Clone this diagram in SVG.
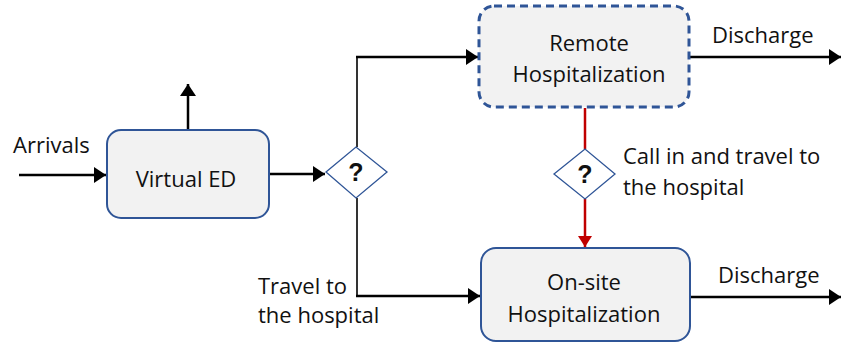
<svg xmlns="http://www.w3.org/2000/svg" width="841" height="345" viewBox="0 0 841 345">
<style>
text{font-family:"Open Sans","Liberation Sans",sans-serif;font-size:22px;fill:#111}
.c{text-anchor:middle}
.q{font-family:"Liberation Sans",Arial,sans-serif;font-weight:bold;font-size:25px;text-anchor:middle}
.box{fill:#F2F2F2;stroke:#2F5597;stroke-width:2}
.dash{fill:#F2F2F2;stroke:#2F5597;stroke-width:3;stroke-dasharray:8 5}
.dia{fill:#fff;stroke:#2F5597;stroke-width:1.3}
.k{fill:none;stroke:#000;stroke-width:2.5}
.t{fill:none;stroke:#000;stroke-width:1.6}
.r{fill:none;stroke:#C00000;stroke-width:2.5}
</style>
<defs>
<marker id="ah" markerUnits="userSpaceOnUse" markerWidth="13" markerHeight="16" refX="12" refY="8" orient="auto"><path d="M0,0 L12,8 L0,16 Z" fill="#000"/></marker>
<marker id="ahr" markerUnits="userSpaceOnUse" markerWidth="12" markerHeight="14" refX="11" refY="7" orient="auto"><path d="M0,0 L11,7 L0,14 Z" fill="#C00000"/></marker>
</defs>
<g id="connectors">
<path class="k" d="M19,175 H106" marker-end="url(#ah)"/>
<path class="k" d="M188,130 V84" marker-end="url(#ah)"/>
<path class="k" d="M269,174 H325" marker-end="url(#ah)"/>
<path class="t" d="M357,147 V57"/>
<path class="k" d="M356,57 H478" marker-end="url(#ah)"/>
<path class="t" d="M357,198 V296"/>
<path class="k" d="M356,296 H480" marker-end="url(#ah)"/>
<path class="k" d="M690,57 H841" marker-end="url(#ah)"/>
<path class="k" d="M690,297 H841" marker-end="url(#ah)"/>
<path class="r" d="M585,108 V149"/>
<path class="r" d="M585,199 V247" marker-end="url(#ahr)"/>
</g>
<g id="virtual-ed">
<rect class="box" x="107" y="130" width="162" height="88" rx="14"/>
<text class="c" x="186" y="187">Virtual ED</text>
</g>
<g id="decision1">
<path class="dia" d="M326,172 L356,147 L387,172 L356,198 Z"/>
<text class="q" x="356" y="181">?</text>
</g>
<g id="remote">
<rect class="dash" x="479" y="6" width="210" height="101" rx="15"/>
<text class="c" x="589" y="51">Remote</text>
<text class="c" x="589" y="82">Hospitalization</text>
</g>
<g id="decision2">
<path class="dia" d="M554,174 L585,149 L615,174 L585,199 Z"/>
<text class="q" x="585" y="183">?</text>
</g>
<g id="onsite">
<rect class="box" x="481" y="248" width="209" height="93" rx="15"/>
<text class="c" x="584" y="290">On-site</text>
<text class="c" x="584" y="322">Hospitalization</text>
</g>
<g id="labels">
<text x="13" y="153">Arrivals</text>
<text x="712" y="43">Discharge</text>
<text x="718" y="283">Discharge</text>
<text x="623" y="164">Call in and travel to</text>
<text x="623" y="195">the hospital</text>
<text x="258" y="294">Travel to</text>
<text x="258" y="323">the hospital</text>
</g>
</svg>
